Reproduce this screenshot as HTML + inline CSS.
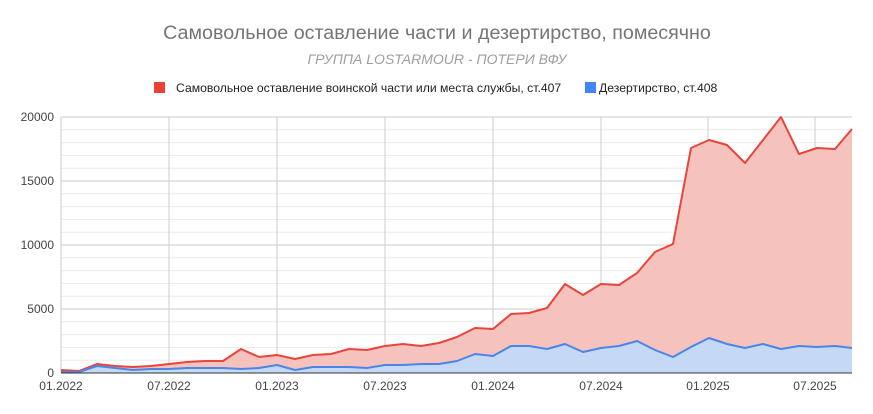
<!DOCTYPE html>
<html><head><meta charset="utf-8"><style>
body{margin:0;background:#fff;}
svg{display:block;font-family:"Liberation Sans",Arial,sans-serif;}
</style></head><body>
<svg width="873" height="414" viewBox="0 0 873 414" xmlns="http://www.w3.org/2000/svg">
<rect width="873" height="414" fill="#fff"/>
<text x="437" y="39" text-anchor="middle" font-size="19.7" fill="#757575">Самовольное оставление части и дезертирство, помесячно</text>
<text x="437" y="64" text-anchor="middle" font-size="14" font-style="italic" fill="#9e9e9e">ГРУППА LOSTARMOUR - ПОТЕРИ ВФУ</text>
<rect x="154" y="82" width="11" height="11" fill="#ea4335"/>
<text x="176" y="92" font-size="12.2" fill="#222">Самовольное оставление воинской части или места службы, ст.407</text>
<rect x="585" y="82" width="11" height="11" fill="#4285f4"/>
<text x="599" y="92" font-size="12.2" fill="#222">Дезертирство, ст.408</text>
<g stroke="#ebebeb" stroke-width="1">
<line x1="61" x2="852" y1="129.8" y2="129.8"/><line x1="61" x2="852" y1="142.6" y2="142.6"/><line x1="61" x2="852" y1="155.4" y2="155.4"/><line x1="61" x2="852" y1="168.2" y2="168.2"/>
<line x1="61" x2="852" y1="193.8" y2="193.8"/><line x1="61" x2="852" y1="206.6" y2="206.6"/><line x1="61" x2="852" y1="219.4" y2="219.4"/><line x1="61" x2="852" y1="232.2" y2="232.2"/>
<line x1="61" x2="852" y1="257.8" y2="257.8"/><line x1="61" x2="852" y1="270.6" y2="270.6"/><line x1="61" x2="852" y1="283.4" y2="283.4"/><line x1="61" x2="852" y1="296.2" y2="296.2"/>
<line x1="61" x2="852" y1="321.8" y2="321.8"/><line x1="61" x2="852" y1="334.6" y2="334.6"/><line x1="61" x2="852" y1="347.4" y2="347.4"/><line x1="61" x2="852" y1="360.2" y2="360.2"/>
</g>
<g stroke="#cccccc" stroke-width="1">
<line x1="61" x2="852" y1="117" y2="117"/><line x1="61" x2="852" y1="181" y2="181"/><line x1="61" x2="852" y1="245" y2="245"/><line x1="61" x2="852" y1="309" y2="309"/>
<line x1="61" x2="61" y1="117" y2="373"/><line x1="169" x2="169" y1="117" y2="373"/><line x1="277" x2="277" y1="117" y2="373"/><line x1="385" x2="385" y1="117" y2="373"/><line x1="493" x2="493" y1="117" y2="373"/><line x1="601" x2="601" y1="117" y2="373"/><line x1="708" x2="708" y1="117" y2="373"/><line x1="815" x2="815" y1="117" y2="373"/>
</g>
<polygon fill="#f6c2bd" points="61,373 61,370 79,371 97,364 115,366 133,367 151,366 169,364 187,362 205,361 223,361 241,349 259,357 277,355 295,359 313,355 331,354 349,349 367,350 385,346 403,344 421,346 439,343 457,337 475,328 493,329 511,314 529,313 547,308 565,284 583,295 601,284 619,285 637,273 655,252 673,244 691,148 709,140 727,145 745,163 763,140 781,117 799,154 817,148 835,149 852,129 852,373"/>
<polygon fill="#c5d9f7" points="61,373 61,372 79,372 97,366 115,368 133,370 151,369 169,369 187,368 205,368 223,368 241,369 259,368 277,365 295,370 313,367 331,367 349,367 367,368 385,365 403,365 421,364 439,364 457,361 475,354 493,356 511,346 529,346 547,349 565,344 583,352 601,348 619,346 637,341 655,350 673,357 691,347 709,338 727,344 745,348 763,344 781,349 799,346 817,347 835,346 852,348 852,373"/>
<polyline fill="none" stroke="#e8453c" stroke-width="2" stroke-linejoin="round" points="61,370 79,371 97,364 115,366 133,367 151,366 169,364 187,362 205,361 223,361 241,349 259,357 277,355 295,359 313,355 331,354 349,349 367,350 385,346 403,344 421,346 439,343 457,337 475,328 493,329 511,314 529,313 547,308 565,284 583,295 601,284 619,285 637,273 655,252 673,244 691,148 709,140 727,145 745,163 763,140 781,117 799,154 817,148 835,149 852,129"/>
<polyline fill="none" stroke="#4a86e8" stroke-width="2" stroke-linejoin="round" points="61,372 79,372 97,366 115,368 133,370 151,369 169,369 187,368 205,368 223,368 241,369 259,368 277,365 295,370 313,367 331,367 349,367 367,368 385,365 403,365 421,364 439,364 457,361 475,354 493,356 511,346 529,346 547,349 565,344 583,352 601,348 619,346 637,341 655,350 673,357 691,347 709,338 727,344 745,348 763,344 781,349 799,346 817,347 835,346 852,348"/>
<line x1="61" x2="852" y1="373" y2="373" stroke="#333" stroke-width="1"/>
<g font-size="12" fill="#444" text-anchor="end">
<text x="54" y="121">20000</text><text x="54" y="185">15000</text><text x="54" y="249">10000</text><text x="54" y="313">5000</text><text x="54" y="377">0</text>
</g>
<g font-size="12" fill="#444" text-anchor="middle">
<text x="61" y="390">01.2022</text><text x="169" y="390">07.2022</text><text x="277" y="390">01.2023</text><text x="385" y="390">07.2023</text><text x="493" y="390">01.2024</text><text x="601" y="390">07.2024</text><text x="708" y="390">01.2025</text><text x="815" y="390">07.2025</text>
</g>
</svg>
</body></html>
